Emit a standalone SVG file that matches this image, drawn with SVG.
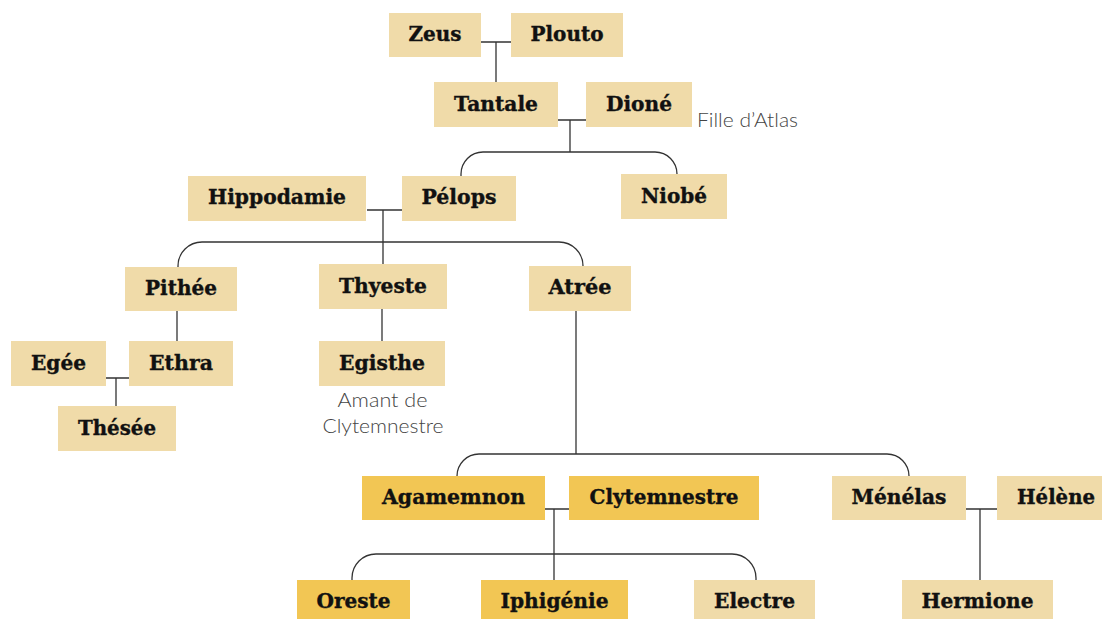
<svg xmlns="http://www.w3.org/2000/svg" width="1102" height="619" viewBox="0 0 1102 619">
<style>
.b{fill:#F0DBA9}
.g{fill:#F2C654}
.t{font-family:"DejaVu Serif","Liberation Serif",serif;font-weight:bold;font-size:19.5px;fill:#111;stroke:#111;stroke-width:0.35;text-anchor:middle}
.n{font-family:"Lato","Liberation Sans",sans-serif;font-weight:300;font-size:20px;fill:#444}
.c{fill:none;stroke:#333;stroke-width:1.3}
</style>
<rect width="1102" height="619" fill="#fff"/>
<g id="connectors" class="c">
<path d="M481,42 H511 M496,42 V82"/>
<path d="M558,120 H586 M570,120 V152"/>
<path d="M461,176 V174 A22,22 0 0 1 483,152 H655 A22,22 0 0 1 677,174"/>
<path d="M367,210 H402 M383,210 V264"/>
<path d="M178,267 V266 A24,24 0 0 1 202,242 H559 A24,24 0 0 1 583,266"/>
<path d="M177,311 V341"/>
<path d="M106,378 H129 M116,378 V406"/>
<path d="M382,309 V341"/>
<path d="M576,311 V454"/>
<path d="M457,476 A22,22 0 0 1 479,454 H887 A22,22 0 0 1 909,476"/>
<path d="M545,509 H569 M554,509 V580"/>
<path d="M352,580 V578 A24,24 0 0 1 376,554 H732 A24,24 0 0 1 756,578 V580"/>
<path d="M966,509 H997 M980,509 V580"/>
</g>
<g id="zeus"><rect class="b" x="389" y="13" width="92" height="44"/><text class="t" x="435" y="41" textLength="53" lengthAdjust="spacingAndGlyphs">Zeus</text></g>
<g id="plouto"><rect class="b" x="511" y="13" width="112" height="44"/><text class="t" x="567" y="41" textLength="73" lengthAdjust="spacingAndGlyphs">Plouto</text></g>
<g id="tantale"><rect class="b" x="434" y="82" width="124" height="45"/><text class="t" x="496" y="110.5" textLength="84" lengthAdjust="spacingAndGlyphs">Tantale</text></g>
<g id="dione"><rect class="b" x="586" y="82" width="106" height="45"/><text class="t" x="639" y="110.5" textLength="66" lengthAdjust="spacingAndGlyphs">Dioné</text><text class="n" x="697" y="126.5" textLength="101" lengthAdjust="spacingAndGlyphs">Fille d’Atlas</text></g>
<g id="hippodamie"><rect class="b" x="188" y="176" width="178" height="45"/><text class="t" x="277" y="204" textLength="138" lengthAdjust="spacingAndGlyphs">Hippodamie</text></g>
<g id="pelops"><rect class="b" x="402" y="176" width="114" height="45"/><text class="t" x="459" y="204" textLength="75" lengthAdjust="spacingAndGlyphs">Pélops</text></g>
<g id="niobe"><rect class="b" x="621" y="174" width="106" height="45"/><text class="t" x="674" y="202.5" textLength="66" lengthAdjust="spacingAndGlyphs">Niobé</text></g>
<g id="pithee"><rect class="b" x="125" y="267" width="112" height="44"/><text class="t" x="181" y="294.5" textLength="72" lengthAdjust="spacingAndGlyphs">Pithée</text></g>
<g id="thyeste"><rect class="b" x="319" y="264" width="128" height="45"/><text class="t" x="383" y="292.5" textLength="88" lengthAdjust="spacingAndGlyphs">Thyeste</text></g>
<g id="atree"><rect class="b" x="529" y="266" width="102" height="45"/><text class="t" x="580" y="294" textLength="63" lengthAdjust="spacingAndGlyphs">Atrée</text></g>
<g id="egee"><rect class="b" x="11" y="341" width="95" height="45"/><text class="t" x="58.5" y="369.5" textLength="55" lengthAdjust="spacingAndGlyphs">Egée</text></g>
<g id="ethra"><rect class="b" x="129" y="341" width="104" height="45"/><text class="t" x="181" y="369.5" textLength="64" lengthAdjust="spacingAndGlyphs">Ethra</text></g>
<g id="egisthe"><rect class="b" x="319" y="341" width="126" height="45"/><text class="t" x="382" y="369.5" textLength="86" lengthAdjust="spacingAndGlyphs">Egisthe</text><text class="n" x="382.5" y="407" text-anchor="middle" textLength="90" lengthAdjust="spacingAndGlyphs">Amant de</text><text class="n" x="383" y="433" text-anchor="middle" textLength="121" lengthAdjust="spacingAndGlyphs">Clytemnestre</text></g>
<g id="thesee"><rect class="b" x="58" y="406" width="118" height="45"/><text class="t" x="117" y="434.5" textLength="78" lengthAdjust="spacingAndGlyphs">Thésée</text></g>
<g id="agamemnon"><rect class="g" x="362" y="476" width="183" height="44"/><text class="t" x="453.5" y="504" textLength="143" lengthAdjust="spacingAndGlyphs">Agamemnon</text></g>
<g id="clytemnestre"><rect class="g" x="569" y="476" width="190" height="44"/><text class="t" x="664" y="504" textLength="149" lengthAdjust="spacingAndGlyphs">Clytemnestre</text></g>
<g id="menelas"><rect class="b" x="832" y="476" width="134" height="44"/><text class="t" x="899" y="504" textLength="95" lengthAdjust="spacingAndGlyphs">Ménélas</text></g>
<g id="helene"><rect class="b" x="997" y="476" width="118" height="44"/><text class="t" x="1056" y="504" textLength="78" lengthAdjust="spacingAndGlyphs">Hélène</text></g>
<g id="oreste"><rect class="g" x="297" y="580" width="113" height="44"/><text class="t" x="353.5" y="608" textLength="74" lengthAdjust="spacingAndGlyphs">Oreste</text></g>
<g id="iphigenie"><rect class="g" x="481" y="580" width="147" height="44"/><text class="t" x="554.5" y="608" textLength="108" lengthAdjust="spacingAndGlyphs">Iphigénie</text></g>
<g id="electre"><rect class="b" x="694" y="580" width="121" height="44"/><text class="t" x="754.5" y="608" textLength="81" lengthAdjust="spacingAndGlyphs">Electre</text></g>
<g id="hermione"><rect class="b" x="902" y="580" width="151" height="44"/><text class="t" x="977.5" y="608" textLength="112" lengthAdjust="spacingAndGlyphs">Hermione</text></g>
</svg>
